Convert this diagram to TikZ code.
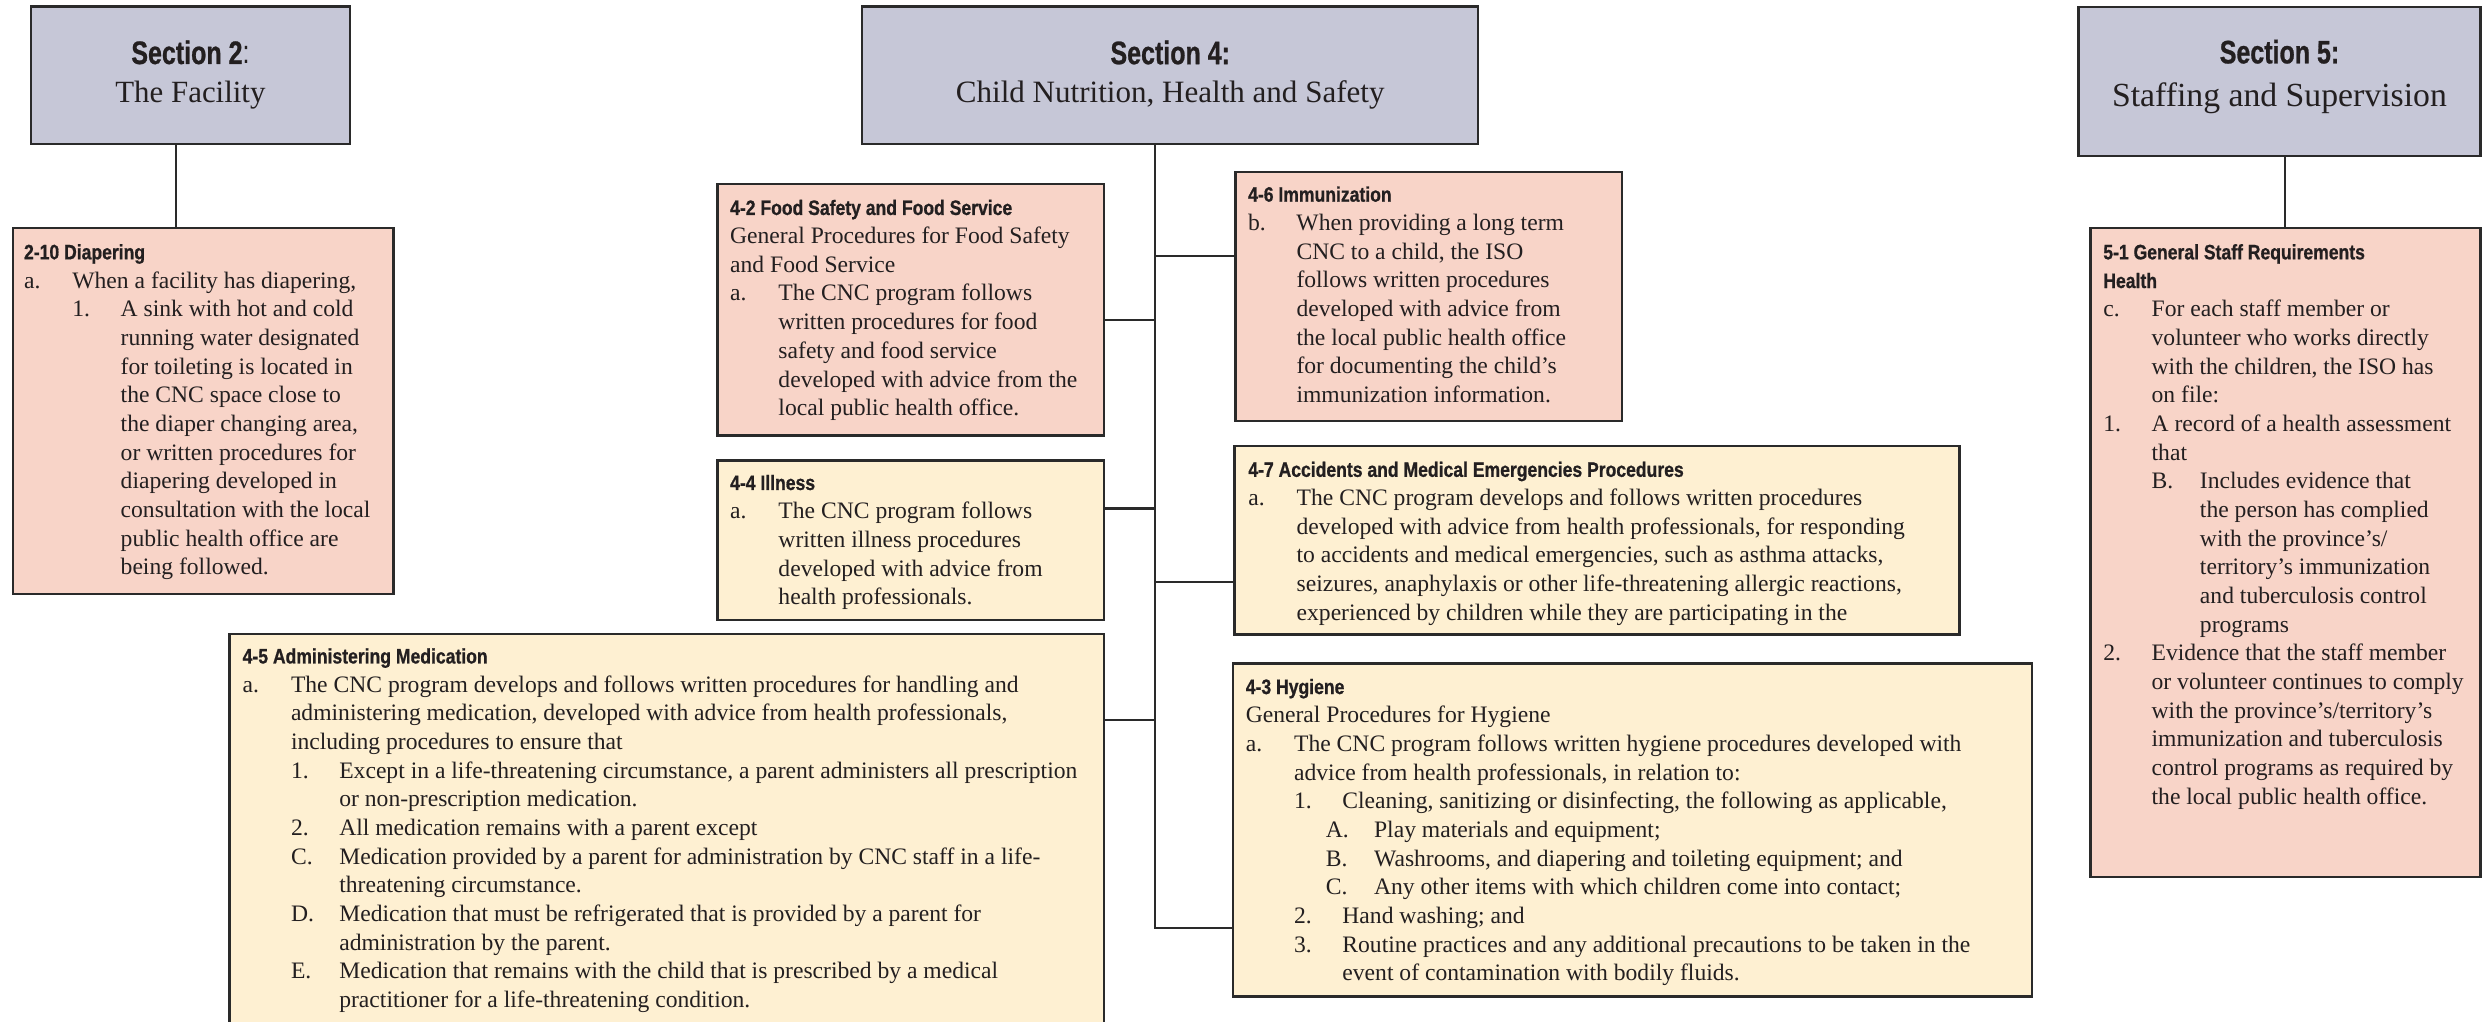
\documentclass[tikz,border=0pt]{standalone}
\usepackage{fontspec}
\setmainfont{Liberation Serif}
\newfontfamily\hfont[FakeStretch=0.84, BoldFeatures={FakeBold=0.8}]{Liberation Sans}
\newfontfamily\sfont[FakeStretch=0.77, BoldFeatures={FakeBold=0.8}]{Liberation Sans}
\definecolor{hdr}{HTML}{C6C7D7}
\definecolor{pnk}{HTML}{F8D4C8}
\definecolor{ylw}{HTML}{FEF0D2}
\definecolor{edge}{HTML}{2A2A2A}
\definecolor{ink}{HTML}{231F20}
\newcommand\IL[3]{\hspace*{#1}\makebox[30.5pt][l]{#2}#3}
\newcommand\CL[2]{\hspace*{#1}#2}
\newcommand\HD[1]{{\hfont\bfseries\fontsize{13.2}{18.1}\selectfont #1}}
\newcommand\FS{\rule{0pt}{14pt}}
\tikzset{
  box/.style={draw=edge, line width=1.5pt, inner sep=0pt, outer sep=0pt, anchor=north west},
  hbox/.style={box, fill=hdr},
  pbox/.style={box, fill=pnk},
  ybox/.style={box, fill=ylw},
  txt/.style={anchor=north west, inner sep=0pt, outer sep=0pt, align=left, text=ink, font={\fontsize{14.9}{18.1}\selectfont}},
  conn/.style={draw=edge, line width=1.3pt},
  ttl/.style={anchor=base, inner sep=0pt, outer sep=0pt, text=ink},
}
\begin{document}
\begin{tikzpicture}[x=1pt,y=-1pt]
\fill[white] (0,0) rectangle (1568,644.5);
\useasboundingbox (0,0) rectangle (1568,644.5);

% ---------- Section 2 ----------
\node[hbox, minimum width=201.6pt, minimum height=86.7pt] (s2) at (19.4,4.2) {};
\node[ttl, font={\sfont\fontsize{20.5}{24}\selectfont}] (s2a) at (120.2,40.4) {{\bfseries Section 2}:};
\node[ttl, font={\fontsize{19.5}{24}\selectfont}] (s2b) at (120.2,64.8) {The Facility};

\node[pbox, minimum width=239.9pt, minimum height=230.9pt] (b210) at (8.4,144.1) {};
\node[txt] (t210) at (15.2,149.7) {\FS\HD{2-10 Diapering}\\
\IL{0pt}{a.}{When a facility has diapering,}\\
\IL{30.5pt}{1.}{A sink with hot and cold}\\
\CL{61pt}{running water designated}\\
\CL{61pt}{for toileting is located in}\\
\CL{61pt}{the CNC space close to}\\
\CL{61pt}{the diaper changing area,}\\
\CL{61pt}{or written procedures for}\\
\CL{61pt}{diapering developed in}\\
\CL{61pt}{consultation with the local}\\
\CL{61pt}{public health office are}\\
\CL{61pt}{being followed.}};

\draw[conn] ([xshift=-9.1pt]s2.south) -- ([xshift=-9.1pt]s2.south |- b210.north);

% ---------- Section 4 ----------
\node[hbox, minimum width=388.8pt, minimum height=86.7pt] (s4) at (544.3,4.2) {};
\node[ttl, font={\sfont\fontsize{20.5}{24}\selectfont\bfseries}] (s4a) at (738.7,40.5) {Section 4:};
\node[ttl, font={\fontsize{19.6}{24}\selectfont}] (s4b) at (738.7,64.8) {Child Nutrition, Health and Safety};

% 4-2
\node[pbox, minimum width=243.9pt, minimum height=158.6pt] (b42) at (452.9,116.2) {};
\node[txt] (t42) at (460.9,121.7) {\FS\HD{4-2 Food Safety and Food Service}\\
\CL{0pt}{General Procedures for Food Safety}\\
\CL{0pt}{and Food Service}\\
\IL{0pt}{a.}{The CNC program follows}\\
\CL{30.5pt}{written procedures for food}\\
\CL{30.5pt}{safety and food service}\\
\CL{30.5pt}{developed with advice from the}\\
\CL{30.5pt}{local public health office.}};

% 4-4
\node[ybox, minimum width=243.9pt, minimum height=100.8pt] (b44) at (452.9,290.6) {};
\node[txt] (t44) at (460.9,295.3) {\FS\HD{4-4 Illness}\\
\IL{0pt}{a.}{The CNC program follows}\\
\CL{30.5pt}{written illness procedures}\\
\CL{30.5pt}{developed with advice from}\\
\CL{30.5pt}{health professionals.}};

% 4-5
\node[ybox, minimum width=552pt, minimum height=270pt] (b45) at (144.8,400.3) {};
\node[txt] (t45) at (153.2,404.8) {\FS\HD{4-5 Administering Medication}\\
\IL{0pt}{a.}{The CNC program develops and follows written procedures for handling and}\\
\CL{30.5pt}{administering medication, developed with advice from health professionals,}\\
\CL{30.5pt}{including procedures to ensure that}\\
\IL{30.5pt}{1.}{Except in a life-threatening circumstance, a parent administers all prescription}\\
\CL{61pt}{or non-prescription medication.}\\
\IL{30.5pt}{2.}{All medication remains with a parent except}\\
\IL{30.5pt}{C.}{Medication provided by a parent for administration by CNC staff in a life-}\\
\CL{61pt}{threatening circumstance.}\\
\IL{30.5pt}{D.}{Medication that must be refrigerated that is provided by a parent for}\\
\CL{61pt}{administration by the parent.}\\
\IL{30.5pt}{E.}{Medication that remains with the child that is prescribed by a medical}\\
\CL{61pt}{practitioner for a life-threatening condition.}};

% 4-6
\node[pbox, minimum width=243.8pt, minimum height=157.2pt] (b46) at (780,108.4) {};
\node[txt] (t46) at (787.9,113.3) {\FS\HD{4-6 Immunization}\\
\IL{0pt}{b.}{When providing a long term}\\
\CL{30.5pt}{CNC to a child, the ISO}\\
\CL{30.5pt}{follows written procedures}\\
\CL{30.5pt}{developed with advice from}\\
\CL{30.5pt}{the local public health office}\\
\CL{30.5pt}{for documenting the child’s}\\
\CL{30.5pt}{immunization information.}};

% 4-7
\node[ybox, minimum width=457.5pt, minimum height=118.8pt] (b47) at (779.3,281.6) {};
\node[txt] (t47) at (788,287) {\FS\HD{4-7 Accidents and Medical Emergencies Procedures}\\
\IL{0pt}{a.}{The CNC program develops and follows written procedures}\\
\CL{30.5pt}{developed with advice from health professionals, for responding}\\
\CL{30.5pt}{to accidents and medical emergencies, such as asthma attacks,}\\
\CL{30.5pt}{seizures, anaphylaxis or other life-threatening allergic reactions,}\\
\CL{30.5pt}{experienced by children while they are participating in the}};

% 4-3
\node[ybox, minimum width=504.4pt, minimum height=210.2pt] (b43) at (778.2,418.8) {};
\node[txt] (t43) at (786.4,424.1) {\FS\HD{4-3 Hygiene}\\
\CL{0pt}{General Procedures for Hygiene}\\
\IL{0pt}{a.}{The CNC program follows written hygiene procedures developed with}\\
\CL{30.5pt}{advice from health professionals, in relation to:}\\
\IL{30.5pt}{1.}{Cleaning, sanitizing or disinfecting, the following as applicable,}\\
\IL{50.5pt}{A.}{Play materials and equipment;}\\
\IL{50.5pt}{B.}{Washrooms, and diapering and toileting equipment; and}\\
\IL{50.5pt}{C.}{Any other items with which children come into contact;}\\
\IL{30.5pt}{2.}{Hand washing; and}\\
\IL{30.5pt}{3.}{Routine practices and any additional precautions to be taken in the}\\
\CL{61pt}{event of contamination with bodily fluids.}};

% trunk and branches
\coordinate (tk) at ([xshift=-9.5pt]s4.south);
\coordinate (p42) at ([yshift=-6.5pt]b42.east);
\coordinate (p44) at ([yshift=20pt]b44.east);
\coordinate (p45) at ([yshift=-54.2pt]b45.north east);
\coordinate (p46) at ([yshift=25.4pt]b46.west);
\coordinate (p47) at ([yshift=-26.6pt]b47.west);
\coordinate (p43) at ([yshift=-62.1pt]b43.west);
\draw[conn] (tk) |- (p43);
\draw[conn] (p42) -- (p42 -| tk);
\draw[conn] (p44) -- (p44 -| tk);
\draw[conn] (p45) -- (p45 -| tk);
\draw[conn] (p46) -- (p46 -| tk);
\draw[conn] (p47) -- (p47 -| tk);

% ---------- Section 5 ----------
\node[hbox, minimum width=253.7pt, minimum height=93.8pt] (s5) at (1312,4.6) {};
\node[ttl, font={\sfont\fontsize{20.5}{24}\selectfont\bfseries}] (s5a) at (1438.9,40) {Section 5:};
\node[ttl, font={\fontsize{21.3}{24}\selectfont}] (s5b) at (1438.9,67.3) {Staffing and Supervision};

\node[pbox, minimum width=246.2pt, minimum height=409.7pt] (b51) at (1319.5,144) {};
\node[txt] (t51) at (1327.7,149.7) {\FS\HD{5-1 General Staff Requirements}\\
\HD{Health}\\
\IL{0pt}{c.}{For each staff member or}\\
\CL{30.5pt}{volunteer who works directly}\\
\CL{30.5pt}{with the children, the ISO has}\\
\CL{30.5pt}{on file:}\\
\IL{0pt}{1.}{A record of a health assessment}\\
\CL{30.5pt}{that}\\
\IL{30.5pt}{B.}{Includes evidence that}\\
\CL{61pt}{the person has complied}\\
\CL{61pt}{with the province’s/}\\
\CL{61pt}{territory’s immunization}\\
\CL{61pt}{and tuberculosis control}\\
\CL{61pt}{programs}\\
\IL{0pt}{2.}{Evidence that the staff member}\\
\CL{30.5pt}{or volunteer continues to comply}\\
\CL{30.5pt}{with the province’s/territory’s}\\
\CL{30.5pt}{immunization and tuberculosis}\\
\CL{30.5pt}{control programs as required by}\\
\CL{30.5pt}{the local public health office.}};

\draw[conn] ([xshift=3.7pt]s5.south) -- ([xshift=3.7pt]s5.south |- b51.north);
\end{tikzpicture}
\end{document}
